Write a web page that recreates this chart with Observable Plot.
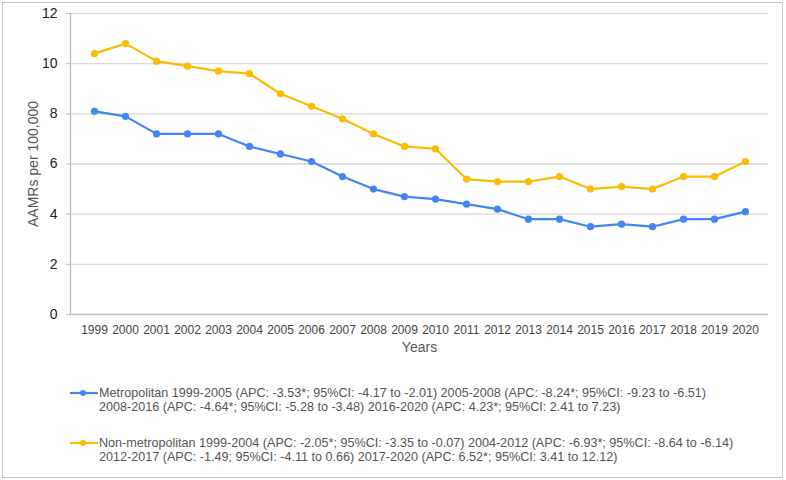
<!DOCTYPE html>
<html>
<head>
<meta charset="utf-8">
<script src="https://cdn.jsdelivr.net/npm/d3@7"></script>
<script src="https://cdn.jsdelivr.net/npm/@observablehq/plot@0.6"></script>
<style>
  html, body { margin: 0; padding: 0; background: #fff; }
  body { position: relative; width: 786px; height: 480px; overflow: hidden; font-family: "Liberation Sans", Arial, sans-serif; }
  #frame { position: absolute; left: 2px; top: 2px; width: 781px; height: 476px; border: 1px solid #c9c9c9; box-sizing: border-box; }
  #chart { position: absolute; left: 0; top: 0; }
  #legend { position: absolute; left: 0; top: 386px; width: 786px; }
  .item { position: relative; height: 50px; }
  .item svg { position: absolute; left: 69px; top: 1px; }
  .item .txt { position: absolute; left: 99px; top: 0px; font-size: 12.6px; line-height: 14px; color: #555; font-family: "Liberation Sans", Arial, sans-serif; white-space: nowrap; }
</style>
</head>
<body>
<div id="frame"></div>
<div id="chart"></div>
<div id="legend"></div>
<script>
const years = ["1999","2000","2001","2002","2003","2004","2005","2006","2007","2008","2009","2010","2011","2012","2013","2014","2015","2016","2017","2018","2019","2020"];
const metro = [8.1, 7.9, 7.2, 7.2, 7.2, 6.7, 6.4, 6.1, 5.5, 5.0, 4.7, 4.6, 4.4, 4.2, 3.8, 3.8, 3.5, 3.6, 3.5, 3.8, 3.8, 4.1];
const nonMetro = [10.4, 10.8, 10.1, 9.9, 9.7, 9.6, 8.8, 8.3, 7.8, 7.2, 6.7, 6.6, 5.4, 5.3, 5.3, 5.5, 5.0, 5.1, 5.0, 5.5, 5.5, 6.1];
const yTicks = [0, 2, 4, 6, 8, 10, 12];
const seriesNames = ["Metropolitan", "Non-metropolitan"];
const seriesColors = ["#4285F4", "#FBBC04"];
const legendLines = [
  ["Metropolitan 1999-2005 (APC: -3.53*; 95%CI: -4.17 to -2.01) 2005-2008 (APC: -8.24*; 95%CI: -9.23 to -6.51)",
   "2008-2016 (APC: -4.64*; 95%CI: -5.28 to -3.48) 2016-2020 (APC: 4.23*; 95%CI: 2.41 to 7.23)"],
  ["Non-metropolitan 1999-2004 (APC: -2.05*; 95%CI: -3.35 to -0.07) 2004-2012 (APC: -6.93*; 95%CI: -8.64 to -6.14)",
   "2012-2017 (APC: -1.49; 95%CI: -4.11 to 0.66) 2017-2020 (APC: 6.52*; 95%CI: 3.41 to 12.12)"]
];
const xLabel = "Years";
const yLabel = "AAMRs per 100,000";

const data = [];
years.forEach((y, i) => {
  data.push({year: y, value: metro[i], series: seriesNames[0]});
  data.push({year: y, value: nonMetro[i], series: seriesNames[1]});
});

const plot = Plot.plot({
  width: 786,
  height: 365,
  marginLeft: 70,
  marginRight: 18,
  marginTop: 13,
  marginBottom: 51,
  style: { fontFamily: "'Liberation Sans', Arial, sans-serif", background: "transparent" },
  x: { type: "point", domain: years, padding: 0.5, label: null },
  y: { domain: [0, 12], label: null },
  color: { domain: seriesNames, range: seriesColors },
  marks: [
    Plot.ruleY(yTicks, { stroke: "#d9d9d9", strokeWidth: 1.3 }),
    Plot.ruleY([0], { stroke: "#c4c4c4", strokeWidth: 1.3 }),
    Plot.axisY({ ticks: yTicks, tickSize: 4, tickPadding: 9, stroke: "#bdbdbd", fontSize: 14, color: "#222", label: null }),
    Plot.axisX({ tickSize: 0, tickPadding: 11, fontSize: 12, color: "#444", label: null }),
    Plot.text([xLabel], { frameAnchor: "bottom", dy: 37, fontSize: 14, fill: "#555" }),
    Plot.text([yLabel], { frameAnchor: "left", textAnchor: "middle", dx: -37, rotate: -90, fontSize: 14, fill: "#555" }),
    Plot.line(data, { x: "year", y: "value", stroke: "series", strokeWidth: 2.2 }),
    Plot.dot(data, { x: "year", y: "value", fill: "series", r: 3.6 })
  ]
});
document.getElementById("chart").appendChild(plot);
const svg = d3.select(plot);
// vertical y-axis line
svg.append("line").attr("x1", 70.5).attr("x2", 70.5).attr("y1", 13).attr("y2", 314).attr("stroke", "#bdbdbd").attr("stroke-width", 1.3);

const legend = d3.select("#legend");
legendLines.forEach((lines, i) => {
  const item = legend.append("div").attr("class", "item");
  const s = item.append("svg").attr("width", 30).attr("height", 12);
  s.append("line").attr("x1", 1).attr("x2", 29).attr("y1", 6).attr("y2", 6).attr("stroke", seriesColors[i]).attr("stroke-width", 2.2);
  s.append("circle").attr("cx", 14).attr("cy", 6).attr("r", 3).attr("fill", seriesColors[i]);
  const t = item.append("div").attr("class", "txt");
  lines.forEach((l, j) => { if (j) t.append("br"); t.append("span").text(l); });
});
</script>
</body>
</html>
